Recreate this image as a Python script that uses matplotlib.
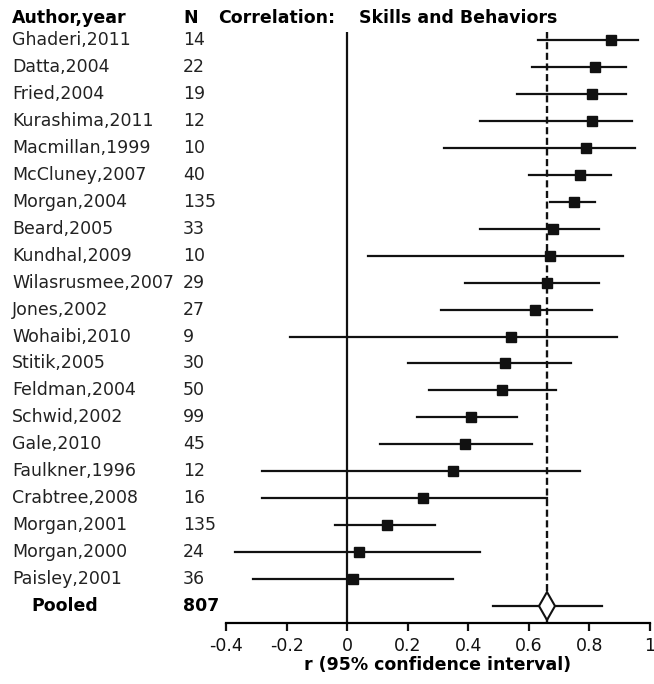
import matplotlib.pyplot as plt
from matplotlib.transforms import blended_transform_factory

authors = ["Ghaderi,2011", "Datta,2004", "Fried,2004", "Kurashima,2011", "Macmillan,1999",
           "McCluney,2007", "Morgan,2004", "Beard,2005", "Kundhal,2009", "Wilasrusmee,2007",
           "Jones,2002", "Wohaibi,2010", "Stitik,2005", "Feldman,2004", "Schwid,2002",
           "Gale,2010", "Faulkner,1996", "Crabtree,2008", "Morgan,2001", "Morgan,2000",
           "Paisley,2001"]
n_vals = [14, 22, 19, 12, 10, 40, 135, 33, 10, 29, 27, 9, 30, 50, 99, 45, 12, 16, 135, 24, 36]
r_vals = [0.87, 0.82, 0.81, 0.81, 0.79, 0.77, 0.75, 0.68, 0.67, 0.66, 0.62, 0.54, 0.52,
          0.51, 0.41, 0.39, 0.35, 0.25, 0.13, 0.04, 0.02]
ci_low = [0.63, 0.61, 0.56, 0.44, 0.32, 0.60, 0.67, 0.44, 0.07, 0.39, 0.31, -0.19, 0.20,
          0.27, 0.23, 0.11, -0.28, -0.28, -0.04, -0.37, -0.31]
ci_high = [0.96, 0.92, 0.92, 0.94, 0.95, 0.87, 0.82, 0.83, 0.91, 0.83, 0.81, 0.89, 0.74,
           0.69, 0.56, 0.61, 0.77, 0.66, 0.29, 0.44, 0.35]
pooled_n = 807
pooled_r = 0.66
pooled_low = 0.48
pooled_high = 0.84

fig = plt.figure(figsize=(6.54, 6.84), dpi=100)
ax = fig.add_axes([226 / 654, 1 - 623 / 684, 424 / 654, (623 - 32) / 684])

rows = list(range(len(authors)))
pooled_row = len(authors)

for i in rows:
    ax.plot([ci_low[i], ci_high[i]], [i, i], color="#111111", lw=1.6, clip_on=False)
ax.plot(r_vals, rows, "s", color="#111111", ms=6.8, clip_on=False, zorder=4)

ax.axvline(0, color="#111111", lw=1.6)
ax.axvline(pooled_r, color="#111111", lw=1.7, ls=(0, (3.0, 1.5)))

ax.plot([pooled_low, pooled_high], [pooled_row, pooled_row], color="#111111", lw=1.6)
ax.plot([pooled_r], [pooled_row], marker="d", ms=14, mfc="white", mec="#111111", mew=1.5, zorder=5)

ax.set_xlim(-0.4, 1.0)
ax.set_ylim(21.63, -0.3)
for s in ["top", "right", "left"]:
    ax.spines[s].set_visible(False)
ax.spines["bottom"].set_linewidth(1.6)
ax.set_yticks([])
ax.set_xticks([-0.4, -0.2, 0, 0.2, 0.4, 0.6, 0.8, 1.0])
ax.set_xticklabels(["-0.4", "-0.2", "0", "0.2", "0.4", "0.6", "0.8", "1"])
ax.tick_params(axis="x", length=6, width=1.6, labelsize=12.5, pad=4, colors="#111111")
ax.set_xlabel("r (95% confidence interval)", fontsize=12.5, fontweight="bold", labelpad=1)

tr = blended_transform_factory(fig.transFigure, ax.transData)
x_name = 12 / 654
x_n = 183 / 654
for i in rows:
    ax.text(x_name, i, authors[i], transform=tr, fontsize=12.5, va="center", ha="left",
            color="#222222", clip_on=False)
    ax.text(x_n, i, str(n_vals[i]), transform=tr, fontsize=12.5, va="center", ha="left",
            color="#222222", clip_on=False)
ax.text(31 / 654, pooled_row, "Pooled", transform=tr, fontsize=12.5, fontweight="bold",
        va="center", ha="left", clip_on=False)
ax.text(x_n, pooled_row, str(pooled_n), transform=tr, fontsize=12.5, fontweight="bold",
        va="center", ha="left", clip_on=False)

hy = -0.82
ax.text(x_name, hy, "Author,year", transform=tr, fontsize=12.5, fontweight="bold",
        va="center", ha="left", clip_on=False)
ax.text(x_n, hy, "N", transform=tr, fontsize=12.5, fontweight="bold",
        va="center", ha="left", clip_on=False)
ax.text(218 / 654, hy, "Correlation:", transform=tr, fontsize=12.5, fontweight="bold",
        va="center", ha="left", clip_on=False)
ax.text(359 / 654, hy, "Skills and Behaviors", transform=tr, fontsize=12.5, fontweight="bold",
        va="center", ha="left", clip_on=False)

fig.savefig("out.png", dpi=100)
